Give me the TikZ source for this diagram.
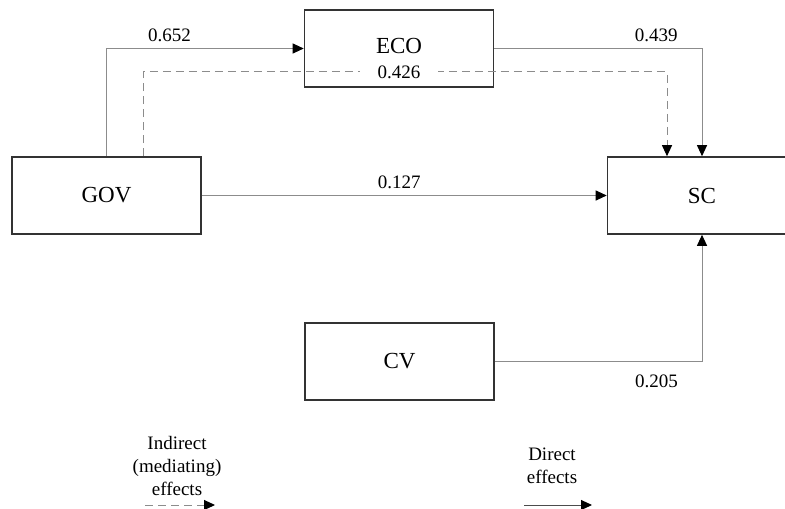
\documentclass[tikz,border=0pt]{standalone}
\usepackage{fontspec}
\setmainfont{Liberation Serif}
\usetikzlibrary{arrows.meta}

\begin{document}
\begin{tikzpicture}[x=0.5pt,y=-0.5pt,line width=0.5pt,
  box/.style={draw=black!80,line width=0.8pt,minimum width=94.5pt,minimum height=38.5pt,
    inner sep=0pt,font=\fontsize{11.5}{14}\selectfont},
  eff/.style={draw=black!45,-{Triangle[length=5.5pt,width=5pt,color=black]}},
  ind/.style={eff,dash pattern=on 4pt off 2.5pt},
  coef/.style={font=\fontsize{9.5}{11}\selectfont},
  legend/.style={align=center,font=\fontsize{9.5}{11.5}\selectfont}]
  \useasboundingbox (0,0) rectangle (785,508);
  % variables
  \node[box] (gov) at (106.5,195.5) {GOV};
  \node[box] (eco) at (399,48.5) {\raisebox{3pt}{ECO}};
  \node[box] (sc) at (702,195.5) {SC};
  \node[box] (cv) at (399.5,361.5) {CV};
  % direct paths
  \draw[eff] (gov.north) |- (eco.west) node[coef,pos=0.66,above]{0.652};
  \draw[eff] (eco.east) -| (sc.north) node[coef,pos=0.39,above]{0.439};
  \draw[eff] (gov) -- (sc) node[coef,midway,above,xshift=-2.5pt]{0.127};
  \draw[eff] (cv.east) -| (sc.south) node[coef,pos=0.39,below=3pt]{0.205};
  % mediating path
  \coordinate (mid) at (399,72);
  \draw[ind] ([xshift=18.25pt]gov.north) |- (mid)
    node[coef,fill=white,inner xsep=9pt,inner ysep=1pt]{0.426}
    -| ([xshift=-17.5pt]sc.north);
  % legend
  \node[legend] (indlab) at (177,466) {Indirect\\(mediating)\\effects};
  \node[legend] (dirlab) at (552,466) {Direct\\effects};
  \coordinate (ia) at (145,505);
  \coordinate (ib) at (215,505);
  \coordinate (da) at (524,505);
  \coordinate (db) at (592,505);
  \draw[ind] (ia) -- (ib);
  \draw[eff,draw=black!70] (da) -- (db);
\end{tikzpicture}
\end{document}
